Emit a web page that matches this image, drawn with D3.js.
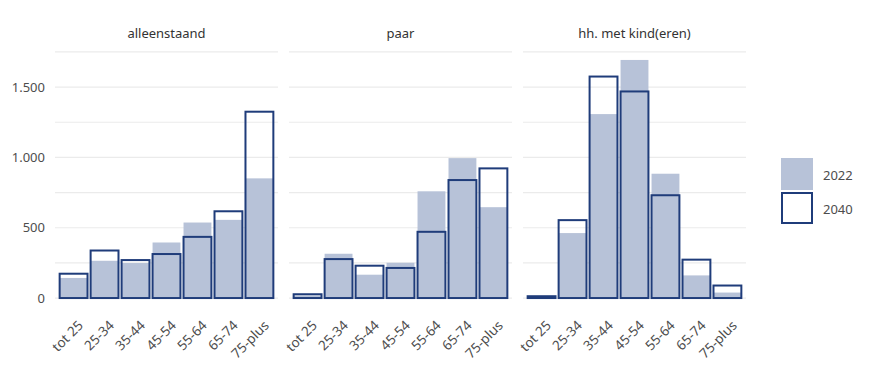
<!DOCTYPE html>
<html lang="nl">
<head>
<meta charset="utf-8">
<script src="https://d3js.org/d3.v7.min.js"></script>
<style>
  body { margin: 0; background: #fff; }
  svg { font-family: "Noto Sans", "Open Sans", sans-serif; }
  .grid line { stroke: #ebebeb; stroke-width: 1.2; }
  .tick-label { fill: #4d4d4d; font-size: 13px; }
  .x-label { fill: #4d4d4d; font-size: 13.5px; }
  .strip { fill: #333; font-size: 13px; }
</style>
</head>
<body>
<div id="chart"></div>
<script>
// categories and values
var ageGroups = ["tot 25", "25-34", "35-44", "45-54", "55-64", "65-74", "75-plus"];
var panels = ["alleenstaand", "paar", "hh. met kind(eren)"];
var years = ["2022", "2040"];
var values2022 = [
  [143, 265, 249, 395, 537, 556, 851],
  [18, 315, 166, 251, 759, 995, 646],
  [5, 462, 1308, 1693, 884, 161, 39]
];
var values2040 = [
  [173, 338, 270, 313, 435, 617, 1325],
  [27, 277, 230, 214, 471, 839, 922],
  [13, 554, 1575, 1469, 731, 273, 89]
];
var yTicks = [0, 500, 1000, 1500];
var yMinor = [250, 750, 1250, 1750];

(function() {
  var width = 878, height = 373;
  var fillColor = "#b7c2d8", lineColor = "#1f3c7a";

  var svg = d3.select("#chart").append("svg")
      .attr("width", width)
      .attr("height", height);

  var panelLeft = [55, 289, 523], panelWidth = 223;

  var y = d3.scaleLinear()
      .domain([-85, 1778])
      .range([310, 48]);

  var fmt = function(d) { return d3.format(",")(d).replace(/,/g, "."); };

  // y axis labels
  svg.append("g").selectAll("text")
      .data(yTicks)
    .enter().append("text")
      .attr("class", "tick-label")
      .attr("x", 45)
      .attr("y", function(d) { return y(d); })
      .attr("dy", "0.35em")
      .attr("text-anchor", "end")
      .text(fmt);

  panels.forEach(function(name, p) {
    var x = d3.scaleBand()
        .domain(ageGroups)
        .range([panelLeft[p], panelLeft[p] + panelWidth])
        .paddingInner(0.1)
        .paddingOuter(0.15);

    var g = svg.append("g");

    // gridlines
    g.append("g").attr("class", "grid")
      .selectAll("line")
        .data(yTicks.concat(yMinor))
      .enter().append("line")
        .attr("x1", panelLeft[p])
        .attr("x2", panelLeft[p] + panelWidth)
        .attr("y1", function(d) { return y(d); })
        .attr("y2", function(d) { return y(d); });

    // strip title
    g.append("text")
        .attr("class", "strip")
        .attr("x", panelLeft[p] + panelWidth / 2)
        .attr("y", 33)
        .attr("dy", "0.35em")
        .attr("text-anchor", "middle")
        .text(name);

    // 2022 filled bars
    g.append("g").selectAll("rect")
        .data(values2022[p])
      .enter().append("rect")
        .attr("x", function(d, i) { return x(ageGroups[i]); })
        .attr("width", x.bandwidth())
        .attr("y", function(d) { return y(d); })
        .attr("height", function(d) { return y(0) - y(d); })
        .attr("fill", fillColor);

    // 2040 outlined bars
    g.append("g").selectAll("rect")
        .data(values2040[p])
      .enter().append("rect")
        .attr("x", function(d, i) { return x(ageGroups[i]); })
        .attr("width", x.bandwidth())
        .attr("y", function(d) { return y(d); })
        .attr("height", function(d) { return y(0) - y(d); })
        .attr("fill", "none")
        .attr("stroke", lineColor)
        .attr("stroke-width", 2);

    // x labels, rotated
    g.append("g").selectAll("text")
        .data(ageGroups)
      .enter().append("text")
        .attr("class", "x-label")
        .attr("text-anchor", "end")
        .attr("transform", function(d) {
          return "translate(" + (x(d) + x.bandwidth() / 2 + 7) + ",323) rotate(-45)";
        })
        .attr("dy", "0.35em")
        .text(function(d) { return d; });
  });

  // legend
  var legend = svg.append("g")
    .selectAll("g")
      .data(years)
    .enter().append("g")
      .attr("transform", function(d, i) { return "translate(781," + (158 + i * 34) + ")"; });
  legend.append("rect")
      .attr("x", function(d, i) { return i ? 1 : 0; })
      .attr("y", function(d, i) { return i ? 1 : 0; })
      .attr("width", function(d, i) { return i ? 30 : 32; })
      .attr("height", function(d, i) { return i ? 30 : 32; })
      .attr("fill", function(d, i) { return i ? "#fff" : fillColor; })
      .attr("stroke", function(d, i) { return i ? lineColor : "none"; })
      .attr("stroke-width", 2);
  legend.append("text")
      .attr("class", "tick-label")
      .attr("x", 42)
      .attr("y", 17)
      .attr("dy", "0.35em")
      .text(function(d) { return d; });
})();
</script>
</body>
</html>
